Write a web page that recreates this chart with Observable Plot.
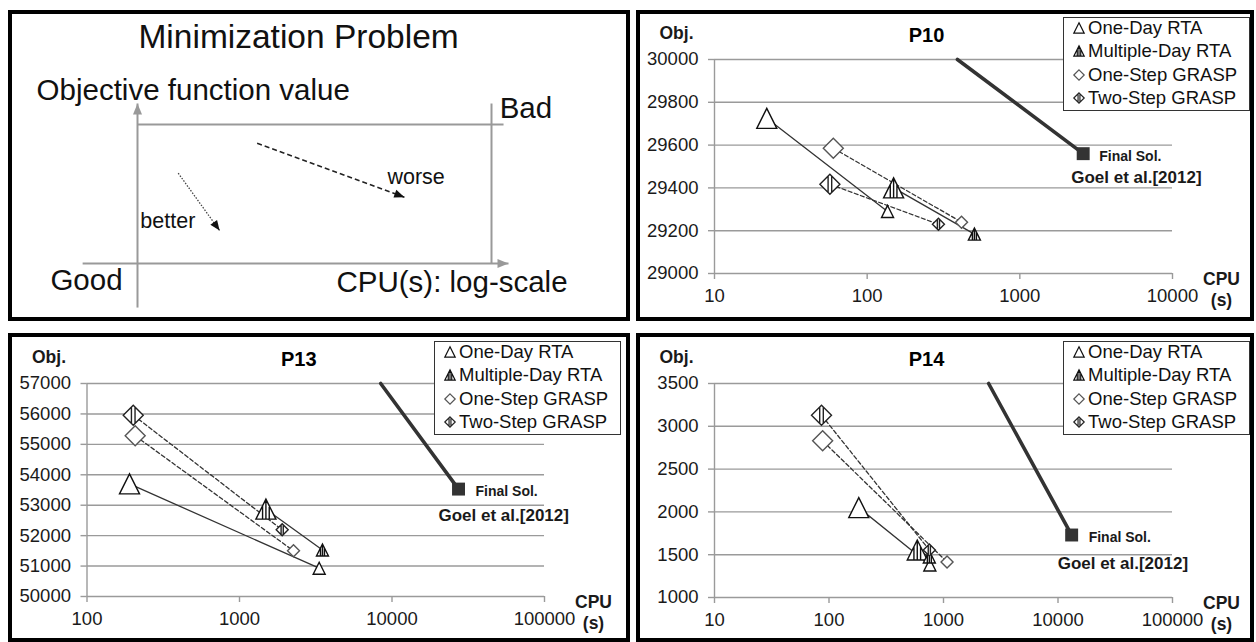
<!DOCTYPE html>
<html>
<head>
<meta charset="utf-8">
<script src="https://cdn.jsdelivr.net/npm/d3@7"></script>
<script src="https://cdn.jsdelivr.net/npm/@observablehq/plot@0.6"></script>
<style>
  html, body { margin: 0; padding: 0; background: #fff; }
  body { width: 1256px; height: 642px; overflow: hidden; position: relative;
         font-family: "Liberation Sans", Arial, sans-serif; }
  .panel { position: absolute; border: 4px solid #000; box-sizing: border-box; background: #fff; }
  .panel > svg { position: absolute; left: 0; top: 0; overflow: visible; }
  .legend { position: absolute; border: 1.5px solid #333; background: #fff; box-sizing: border-box; }
  .legend .lt { position: absolute; font-size: 18.5px; line-height: 22px; color: #111; white-space: nowrap; }
  .legend svg { position: absolute; overflow: visible; }
</style>
</head>
<body>
<script>
// ------------------------- DATA -------------------------
const seriesNames = ["One-Day RTA", "Multiple-Day RTA", "One-Step GRASP", "Two-Step GRASP"];

// P10 : per series [start, end]
const p10Cpu = [[22, 136], [149, 504], [60, 415], [57, 293]];
const p10Obj = [[29725, 29290], [29400, 29184], [29585, 29240], [29417, 29230]];
const p10FinalCpu = [390, 2600];
const p10FinalObj = [30000, 29560];
const p10XTicks = [10, 100, 1000, 10000];
const p10YTicks = [29000, 29200, 29400, 29600, 29800, 30000];

// P13
const p13Cpu = [[190, 3330], [1490, 3500], [207, 2260], [201, 1905]];
const p13Obj = [[53700, 50930], [52870, 51530], [55280, 51500], [55960, 52190]];
const p13FinalCpu = [8430, 27300];
const p13FinalObj = [57000, 53530];
const p13XTicks = [100, 1000, 10000, 100000];
const p13YTicks = [50000, 51000, 52000, 53000, 54000, 55000, 56000, 57000];

// P14
const p14Cpu = [[182, 760], [590, 752], [88, 1074], [86, 752]];
const p14Obj = [[2050, 1380], [1555, 1474], [2830, 1415], [3130, 1555]];
const p14FinalCpu = [2477, 13160];
const p14FinalObj = [3500, 1730];
const p14XTicks = [10, 100, 1000, 10000, 100000];
const p14YTicks = [1000, 1500, 2000, 2500, 3000, 3500];

const finalLabel = "Final Sol.";
const sourceLabel = "Goel et al.[2012]";

// Schematic panel (diagram units: x 0..1 = CPU axis to right border, y 0..1 = bottom axis to top line)
const schemaAxes = [
  {x1: 0, y1: -0.317, x2: 0, y2: 1.151},
  {x1: -0.155, y1: 0, x2: 1.048, y2: 0}
];
const schemaBox = [
  {x1: 0, y1: 1, x2: 1.034, y2: 1},
  {x1: 1, y1: 1.151, x2: 1, y2: 0}
];
const schemaWorse = [{x1: 0.338, y1: 0.865, x2: 0.754, y2: 0.477}];
const schemaBetter = [{x1: 0.115, y1: 0.650, x2: 0.232, y2: 0.237}];
const schemaTitle = [{text: "Minimization Problem", x: 0.455, y: 1.626}];
const schemaBigLabels = [
  {text: "Objective function value", x: -0.285, y: 1.245},
  {text: "Bad", x: 1.023, y: 1.115},
  {text: "Good", x: -0.246, y: -0.122},
  {text: "CPU(s): log-scale", x: 0.562, y: -0.137}
];
const schemaSmallLabels = [
  {text: "worse", x: 0.706, y: 0.619},
  {text: "better", x: 0.008, y: 0.302}
];

// ------------------------- SYMBOLS -------------------------
const rOf = s => Math.sqrt(s / Math.PI);
const symTriangle = {draw(c, s) { const r = rOf(s);
  c.moveTo(0, -r); c.lineTo(r, r); c.lineTo(-r, r); c.closePath(); }};
const symTriangleBar = {draw(c, s) { const r = rOf(s);
  c.moveTo(0, -r); c.lineTo(r, r); c.lineTo(-r, r); c.closePath();
  c.moveTo(0, -r); c.lineTo(0, r);
  c.moveTo(r / 3, -r / 3); c.lineTo(r / 3, r);
  c.moveTo(-r / 3, -r / 3); c.lineTo(-r / 3, r); }};
const symDiamond = {draw(c, s) { const r = rOf(s);
  c.moveTo(0, -r); c.lineTo(r, 0); c.lineTo(0, r); c.lineTo(-r, 0); c.closePath(); }};
const symDiamondBar = {draw(c, s) { const r = rOf(s);
  c.moveTo(0, -r); c.lineTo(r, 0); c.lineTo(0, r); c.lineTo(-r, 0); c.closePath();
  c.moveTo(-0.18 * r, -0.82 * r); c.lineTo(-0.18 * r, 0.82 * r);
  c.moveTo(0.18 * r, -0.82 * r); c.lineTo(0.18 * r, 0.82 * r); }};
const symHead = {draw(c, s) { const r = rOf(s);
  c.moveTo(0, 0); c.lineTo(r * 0.9, r * 2.2); c.lineTo(-r * 0.9, r * 2.2); c.closePath(); }};

const seriesStyle = {
  "One-Day RTA":      {symbol: symTriangle,    stroke: "#111", dash: null},
  "Multiple-Day RTA": {symbol: symTriangleBar, stroke: "#111", dash: null},
  "One-Step GRASP":   {symbol: symDiamond,     stroke: "#555", dash: "4,2.5"},
  "Two-Step GRASP":   {symbol: symDiamondBar,  stroke: "#222", dash: "4,2.5"}
};

const FONT = '"Liberation Sans", Arial, sans-serif';
const GRID = "#9a9a9a";
const TEXT = "#1a1a1a";

function addPanel(left, top, w, h) {
  const d = document.createElement("div");
  d.className = "panel";
  Object.assign(d.style, {left: left + "px", top: top + "px", width: w + "px", height: h + "px"});
  document.body.appendChild(d);
  return d;
}

function addLegend(panel, left, top) {
  const lg = document.createElement("div");
  lg.className = "legend";
  Object.assign(lg.style, {left: left + "px", top: top + "px", width: "187px", height: "94px"});
  seriesNames.forEach((s, i) => {
    const cy = 10 + i * 23.4;
    const st = seriesStyle[s];
    const svgNS = "http://www.w3.org/2000/svg";
    const sv = document.createElementNS(svgNS, "svg");
    sv.setAttribute("width", 14); sv.setAttribute("height", 14);
    sv.style.left = (15 - 7) + "px"; sv.style.top = (cy - 7) + "px";
    const p = document.createElementNS(svgNS, "path");
    p.setAttribute("d", d3.symbol(st.symbol, 5.2 * 5.2 * Math.PI)());
    p.setAttribute("transform", "translate(7,7)");
    p.setAttribute("fill", "#fff");
    p.setAttribute("stroke", st.stroke);
    p.setAttribute("stroke-width", 1.2);
    sv.appendChild(p);
    lg.appendChild(sv);
    const t = document.createElement("div");
    t.className = "lt";
    t.textContent = s;
    t.style.left = "24px"; t.style.top = (cy - 11) + "px";
    lg.appendChild(t);
  });
  panel.appendChild(lg);
}

function chart(cfg) {
  const rows = [];
  seriesNames.forEach((s, i) => cfg.cpu[i].forEach((c, j) =>
    rows.push({series: s, stage: j === 0 ? "start" : "end", cpu: c, obj: cfg.obj[i][j]})));
  const finals = cfg.finalCpu.map((c, j) => ({cpu: c, obj: cfg.finalObj[j]}));
  const fmt = d => String(d);
  const marks = [
    Plot.gridY(cfg.yTicks, {stroke: GRID, strokeOpacity: 1, strokeWidth: 1.4}),
    Plot.ruleX([cfg.xTicks[0]], {stroke: GRID, strokeWidth: 1.4}),
    Plot.axisY(cfg.yTicks, {tickSize: 6, tickFormat: () => "", color: GRID, strokeWidth: 1.4, label: null}),
    Plot.axisX(cfg.xTicks, {tickSize: 6, tickFormat: () => "", color: GRID, strokeWidth: 1.4, label: null}),
    Plot.text(cfg.yTicks, {y: d => d, text: fmt, frameAnchor: "left", dx: -16, textAnchor: "end",
      lineAnchor: "middle", fontSize: 18.5, fill: TEXT}),
    Plot.text(cfg.xTicks, {x: d => d, text: fmt, frameAnchor: "bottom", dy: 23, textAnchor: "middle",
      lineAnchor: "middle", fontSize: 18.5, fill: TEXT})
  ];
  seriesNames.forEach(s => {
    const st = seriesStyle[s];
    marks.push(Plot.line(rows.filter(d => d.series === s), {
      x: "cpu", y: "obj", stroke: "#333", strokeWidth: 1.3, strokeDasharray: st.dash || undefined}));
  });
  marks.push(Plot.line(finals, {x: "cpu", y: "obj", stroke: "#333", strokeWidth: 3.6}));
  marks.push(Plot.dot([finals[1]], {x: "cpu", y: "obj", symbol: "square", r: 7.3, fill: "#333"}));
  ["start", "end"].forEach(stage => {
    seriesNames.forEach(s => {
      const st = seriesStyle[s];
      marks.push(Plot.dot(rows.filter(d => d.series === s && d.stage === stage), {
        x: "cpu", y: "obj", symbol: st.symbol, r: stage === "start" ? 10 : 6,
        fill: "#fff", stroke: st.stroke, strokeWidth: 1.4}));
    });
  });
  const lbl = {textAnchor: "middle", lineAnchor: "middle", fontWeight: "bold", fill: TEXT};
  marks.push(
    Plot.text([finals[1]], {x: "cpu", y: "obj", text: () => finalLabel, textAnchor: "start",
      dx: cfg.finalDx, dy: cfg.finalDy, fontWeight: "bold", fontSize: 14, fill: TEXT}),
    Plot.text([finals[1]], {x: "cpu", y: "obj", text: () => sourceLabel, textAnchor: "start",
      dx: cfg.goelDx, dy: cfg.goelDy, fontWeight: "bold", fontSize: 17, fill: TEXT}),
    Plot.text([cfg.title], {...lbl, text: d => d, frameAnchor: "top", dx: -17, dy: -24, fontSize: 20, fill: "#000"}),
    Plot.text(["Obj."], {...lbl, text: d => d, frameAnchor: "top-left", dx: -38, dy: -26, fontSize: 17.5}),
    Plot.text(["CPU"], {...lbl, text: d => d, frameAnchor: "bottom-right", dx: 49, dy: 5.5, fontSize: 17.5}),
    Plot.text(["(s)"], {...lbl, text: d => d, frameAnchor: "bottom-right", dx: 49, dy: 27, fontSize: 17.5})
  );
  return Plot.plot({
    width: cfg.width, height: cfg.height,
    marginLeft: cfg.mL, marginRight: cfg.mR, marginTop: cfg.mT, marginBottom: cfg.mB,
    x: {type: "log", domain: [cfg.xTicks[0], cfg.xTicks[cfg.xTicks.length - 1]], label: null, axis: null},
    y: {domain: [cfg.yTicks[0], cfg.yTicks[cfg.yTicks.length - 1]], label: null, axis: null},
    style: {fontFamily: FONT, background: "transparent", overflow: "visible"},
    marks
  });
}

// ------------------------- SCHEMATIC -------------------------
(function () {
  const panel = addPanel(8, 10, 622, 311);
  const W = 614, H = 303, mL = 125, mR = 135, mT = 110, mB = 54;
  const fw = W - mL - mR, fh = H - mT - mB;
  const angle = d => Math.atan2((d.x2 - d.x1) * fw, (d.y2 - d.y1) * fh) * 180 / Math.PI;
  const svg = Plot.plot({
    width: W, height: H, marginLeft: mL, marginRight: mR, marginTop: mT, marginBottom: mB,
    x: {domain: [0, 1], axis: null}, y: {domain: [0, 1], axis: null},
    style: {fontFamily: FONT, background: "transparent", overflow: "visible"},
    marks: [
      Plot.link(schemaAxes, {x1: "x1", y1: "y1", x2: "x2", y2: "y2", stroke: "#999", strokeWidth: 2}),
      Plot.link(schemaBox, {x1: "x1", y1: "y1", x2: "x2", y2: "y2", stroke: "#999", strokeWidth: 2}),
      Plot.dot(schemaAxes, {x: "x2", y: "y2", symbol: symHead, r: 5, fill: "#999", stroke: "none", rotate: angle}),
      Plot.link(schemaWorse, {x1: "x1", y1: "y1", x2: "x2", y2: "y2", stroke: "#222", strokeWidth: 1.5, strokeDasharray: "5,3"}),
      Plot.dot(schemaWorse, {x: "x2", y: "y2", symbol: symHead, r: 4.6, fill: "#111", stroke: "none", rotate: angle}),
      Plot.link(schemaBetter, {x1: "x1", y1: "y1", x2: "x2", y2: "y2", stroke: "#444", strokeWidth: 1.3, strokeDasharray: "1.5,1.5"}),
      Plot.dot(schemaBetter, {x: "x2", y: "y2", symbol: symHead, r: 4.6, fill: "#111", stroke: "none", rotate: angle}),
      Plot.text(schemaTitle, {x: "x", y: "y", text: "text", fontSize: 33.5, fill: "#111"}),
      Plot.text(schemaBigLabels, {x: "x", y: "y", text: "text", textAnchor: "start", fontSize: 29.5, fill: "#111"}),
      Plot.text(schemaSmallLabels, {x: "x", y: "y", text: "text", textAnchor: "start", fontSize: 21.5, fill: "#111"})
    ]
  });
  panel.appendChild(svg);
})();

// ------------------------- CHART PANELS -------------------------
(function () {
  const pTR = addPanel(636, 10, 618, 311);
  pTR.appendChild(chart({title: "P10", cpu: p10Cpu, obj: p10Obj, finalCpu: p10FinalCpu, finalObj: p10FinalObj,
    xTicks: p10XTicks, yTicks: p10YTicks, width: 610, height: 303, mL: 74, mR: 78, mT: 45, mB: 44,
    finalDx: 16, finalDy: 3, goelDx: -12, goelDy: 24}));
  addLegend(pTR, 423, 3);

  const pBL = addPanel(8, 333, 622, 309);
  pBL.appendChild(chart({title: "P13", cpu: p13Cpu, obj: p13Obj, finalCpu: p13FinalCpu, finalObj: p13FinalObj,
    xTicks: p13XTicks, yTicks: p13YTicks, width: 614, height: 301, mL: 74.5, mR: 82, mT: 46, mB: 42,
    finalDx: 17, finalDy: 2, goelDx: -20, goelDy: 26}));
  addLegend(pBL, 422, 4);

  const pBR = addPanel(636, 333, 618, 309);
  pBR.appendChild(chart({title: "P14", cpu: p14Cpu, obj: p14Obj, finalCpu: p14FinalCpu, finalObj: p14FinalObj,
    xTicks: p14XTicks, yTicks: p14YTicks, width: 610, height: 301, mL: 74, mR: 78, mT: 46, mB: 41,
    finalDx: 17, finalDy: 3, goelDx: -14, goelDy: 29}));
  addLegend(pBR, 423, 4);
})();
</script>
</body>
</html>
